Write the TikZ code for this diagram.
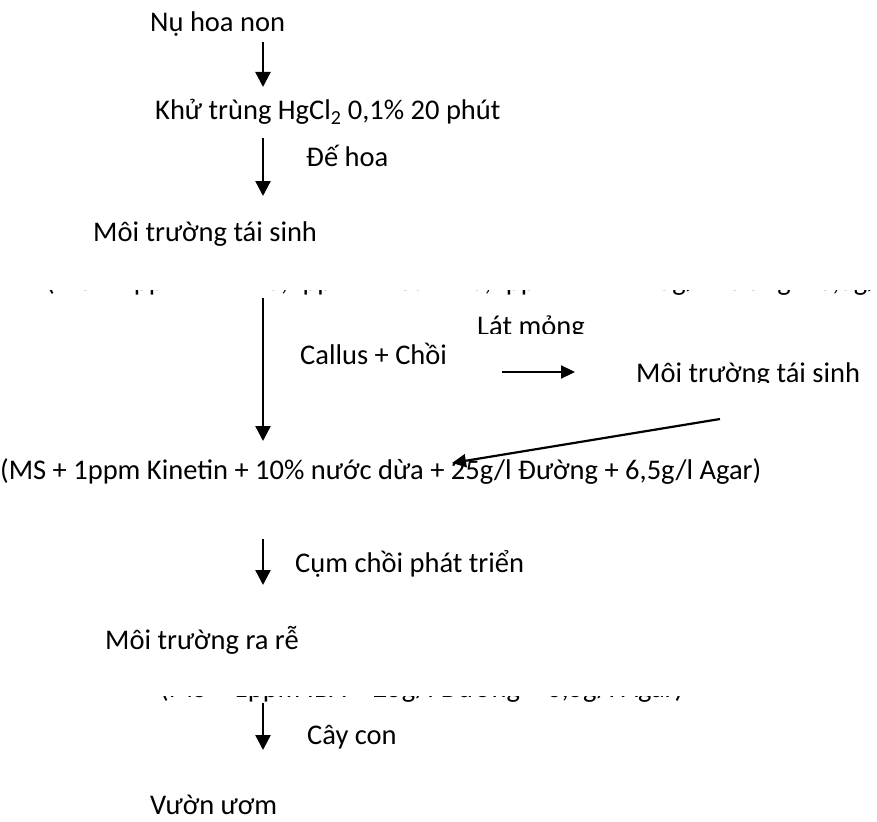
\documentclass[tikz,border=0pt]{standalone}
\usepackage{fontspec}
\setmainfont{Carlito}
\usetikzlibrary{arrows.meta}
\begin{document}
\begin{tikzpicture}[x=1pt,y=-1pt,
  txt/.style={inner sep=0pt,anchor=base west,font=\fontsize{28.5}{32}\selectfont},
  arr/.style={line width=2.3pt,-{Triangle[length=15pt,width=15pt]}},
  sarr/.style={line width=2.2pt,-{Triangle[length=14pt,width=13pt]}}]
\useasboundingbox (0,0) rectangle (877,821);
\node[txt] (n1) at (150,32) {Nụ hoa non};
\node[txt] (n2) at (155,120) {Khử trùng HgCl\textsubscript{2} 0,1\% 20 phút};
\node[txt] (l2) at (306,167) {Đế hoa};
\node[txt] (n3) at (93,241) {Môi trường tái sinh};
\begin{scope}
  \clip (0,290) rectangle (877,300);
  \node[txt] (n4) at (46,290.5) {(MS + 1ppm BAP + 0,2ppm Kinetin + 0,2ppm NAA + 25g/l Đường + 6,5g/l Agar)};
\end{scope}
\node[txt] (l3) at (300,364) {Callus + Chồi};
\begin{scope}
  \clip (400,300) rectangle (877,333);
  \node[txt] (lat) at (477,335) {Lát mỏng};
\end{scope}
\begin{scope}
  \clip (600,340) rectangle (877,382);
  \node[txt] (n5) at (636,382) {Môi trường tái sinh};
\end{scope}
\node[txt] (n6) at (0,479) {(MS + 1ppm Kinetin + 10\% nước dừa + 25g/l Đường + 6,5g/l Agar)};
\node[txt] (l4) at (295,572) {Cụm chồi phát triển};
\node[txt] (n7) at (105,649) {Môi trường ra rễ};
\begin{scope}
  \clip (0,696.5) rectangle (877,702);
  \node[txt] (n8) at (160,697) {(MS + 1ppm IBA + 25g/l Đường + 6,5g/l Agar)};
\end{scope}
\node[txt] (l5) at (307,744) {Cây con};
\node[txt] (n9) at (150,814) {Vườn ươm};
% arrow end points
\coordinate (a1s) at (263,42);  \coordinate (a1e) at (263,87);
\coordinate (a2s) at (263,138); \coordinate (a2e) at (263,196);
\coordinate (a3s) at (263,298); \coordinate (a3e) at (263,441);
\coordinate (a4s) at (263,539); \coordinate (a4e) at (263,585);
\coordinate (a5s) at (263,703); \coordinate (a5e) at (263,750);
\coordinate (hs) at (502,372);  \coordinate (he) at (575,372);
\coordinate (ds) at (720,419);  \coordinate (de) at (452,463);
\draw[arr] (a1s) -- (a1e);
\draw[arr] (a2s) -- (a2e);
\draw[arr] (a3s) -- (a3e);
\draw[arr] (a4s) -- (a4e);
\draw[arr] (a5s) -- (a5e);
\draw[sarr] (hs) -- (he);
\draw[sarr] (ds) -- (de);
\end{tikzpicture}
\end{document}
